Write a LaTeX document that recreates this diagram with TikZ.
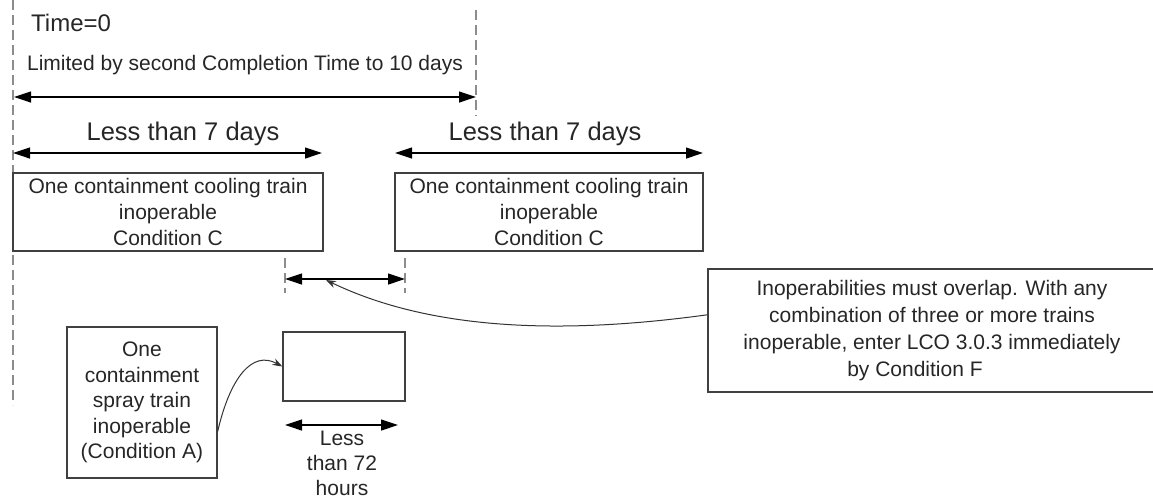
\documentclass[tikz,border=0pt]{standalone}
\usepackage{fontspec}
\setmainfont{Liberation Sans}
\usetikzlibrary{arrows.meta}
\begin{document}
\begin{tikzpicture}[x=1pt,y=-1pt,
  box/.style={draw=black!75, line width=1.3pt, inner sep=0pt, align=center, text=black!85,
              font=\fontsize{21}{26}\selectfont},
  dim/.style={{Triangle[length=17pt,width=11pt]}-{Triangle[length=17pt,width=11pt]}, line width=1.2pt},
  guide/.style={draw=black!45, line width=1.8pt, dash pattern=on 10pt off 5pt},
  lbl/.style={text=black!85, inner sep=0pt, align=center},
  link/.style={-{Stealth[length=10pt,width=7pt]}, line width=1pt, draw=black!80}
]
\useasboundingbox (0,0) rectangle (1153,501);

% guides
\coordinate (g0t) at (13,0);   \coordinate (g0b) at (13,405);
\coordinate (g1t) at (476,10); \coordinate (g1b) at (476,116);
\coordinate (g2t) at (285,258); \coordinate (g2b) at (285,293);
\coordinate (g3t) at (405,258); \coordinate (g3b) at (405,293);
\draw[guide] (g0t) -- (g0b);
\draw[guide] (g1t) -- (g1b);
\draw[guide] (g2t) -- (g2b);
\draw[guide] (g3t) -- (g3b);

% top labels
\node[lbl, font=\fontsize{24}{29}\selectfont, anchor=west] (t0) at (31,23) {Time=0};
\node[lbl, font=\fontsize{21}{26}\selectfont] (lim) at (245,65) {Limited by second Completion Time to 10 days};
\coordinate (a1l) at (14,97); \coordinate (a1r) at (476,97);
\draw[dim] (a1l) -- (a1r);

% 7 day spans
\node[lbl, font=\fontsize{25.5}{30}\selectfont] (l7a) at (183,134) {Less than 7 days};
\node[lbl, font=\fontsize{25.5}{30}\selectfont] (l7b) at (545,134) {Less than 7 days};
\coordinate (a2l) at (13,153);  \coordinate (a2r) at (322,153);
\coordinate (a3l) at (395,153); \coordinate (a3r) at (703,153);
\draw[dim] (a2l) -- (a2r);
\draw[dim] (a3l) -- (a3r);

% condition C boxes
\node[box, minimum width=310pt, minimum height=78pt] (c1) at (168,212)
  {One containment cooling train\\inoperable\\Condition C};
\node[box, minimum width=308pt, minimum height=78pt] (c2) at (549,212)
  {One containment cooling train\\inoperable\\Condition C};

% overlap span
\coordinate (ovl) at (285,279); \coordinate (ovr) at (405,279);
\draw[dim] (ovl) -- (ovr);
\coordinate (ovp) at (326,280);

% condition F box
\node[box, minimum width=448pt, minimum height=123pt, font=\fontsize{21}{27}\selectfont] (f) at (932,330.5)
  {Inoperabilities must overlap. With any\\combination of three or more trains\\inoperable, enter LCO 3.0.3 immediately\\by Condition F\hspace*{34pt}};
\draw[link] (f.176.8) .. controls (560,335) and (430,330) .. (ovp);

% condition A
\node[box, minimum width=150pt, minimum height=151pt, font=\fontsize{21}{25.5}\selectfont] (a) at (142,402.5)
  {One\\containment\\spray train\\inoperable\\(Condition A)};
\node[box, minimum width=122pt, minimum height=69pt] (s) at (344,366.5) {};
\draw[link] (a.-21.5) .. controls (230,378) and (252,350) .. (s.west);

% 72 hours span
\coordinate (a4l) at (285,425); \coordinate (a4r) at (398,425);
\draw[dim] (a4l) -- (a4r);
\node[lbl, font=\fontsize{21}{25}\selectfont] (l72) at (342,463) {Less\\than 72\\hours};
\end{tikzpicture}
\end{document}
